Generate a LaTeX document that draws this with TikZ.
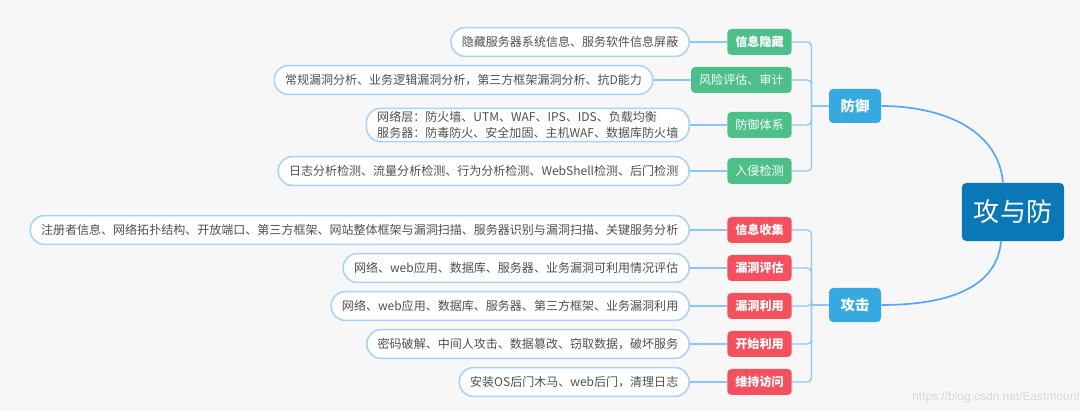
\documentclass[tikz,border=0pt]{standalone}
\usepackage{fontspec}
\setmainfont{Noto Sans CJK SC}
\newfontfamily\wmfont{Liberation Sans}
\usetikzlibrary{positioning}

\definecolor{bgcolor}{HTML}{F7F7F7}
\definecolor{rootblue}{HTML}{0A78B4}
\definecolor{topicblue}{HTML}{35A9E0}
\definecolor{defgreen}{HTML}{4DC08A}
\definecolor{atkred}{HTML}{F5505E}
\definecolor{itemborder}{HTML}{A9D1FA}
\definecolor{itemtext}{HTML}{505050}
\definecolor{linkblue}{HTML}{8CC6F8}
\definecolor{curveblue}{HTML}{55A8F5}

\begin{document}
\begin{tikzpicture}[
    x=0.025cm, y=-0.025cm,
    root/.style={rectangle, rounded corners=3pt, fill=rootblue, text=white, minimum width=2.55cm, minimum height=1.45cm, font=\fontsize{18.5}{22}\selectfont},
    topic/.style={rectangle, rounded corners=3pt, fill=topicblue, text=white, minimum width=1.3cm, minimum height=0.85cm, font=\bfseries\fontsize{10.2}{12}\selectfont},
    label/.style={rectangle, rounded corners=3pt, text=white, minimum height=0.65cm, inner xsep=0.2cm, inner ysep=0pt, font=\fontsize{8.6}{10}\selectfont},
    deflabel/.style={label, fill=defgreen},
    atklabel/.style={label, fill=atkred, font=\bfseries\fontsize{8.6}{10}\selectfont},
    item/.style={rectangle, rounded corners=0.35cm, draw=itemborder, line width=1.1pt, fill=white, text=itemtext, align=left, minimum height=0.72cm, inner xsep=0.27cm, inner ysep=2pt, font=\fontsize{8.55}{11.5}\selectfont},
    branch/.style={draw=linkblue, line width=0.9pt},
    curve/.style={draw=curveblue, line width=1.2pt}
]

\useasboundingbox[fill=bgcolor] (0,0) rectangle (1080,411);

% Nodes
\node[root] (root) at (1013,212) {攻与防};
\node[topic] (fy) at (855,106) {防御};
\node[topic] (gj) at (855,305) {攻击};

% Defence labels
\node[deflabel, anchor=east, font=\bfseries\fontsize{8.6}{10}\selectfont] (d1) at (792,42) {信息隐藏};
\node[deflabel, anchor=east] (d2) at (792,80) {风险评估、审计};
\node[deflabel, anchor=east] (d3) at (792,125) {防御体系};
\node[deflabel, anchor=east] (d4) at (792,171) {入侵检测};

% Attack labels
\node[atklabel, anchor=east] (a1) at (792,230) {信息收集};
\node[atklabel, anchor=east] (a2) at (792,268) {漏洞评估};
\node[atklabel, anchor=east] (a3) at (792,306) {漏洞利用};
\node[atklabel, anchor=east] (a4) at (792,344) {开始利用};
\node[atklabel, anchor=east] (a5) at (792,382) {维持访问};

% Items
\node[item, left=0.93cm of d1] (t1) {隐藏服务器系统信息、服务软件信息屏蔽};
\node[item, left=0.93cm of d2] (t2) {常规漏洞分析、业务逻辑漏洞分析，第三方框架漏洞分析、抗D能力};
\node[item, left=0.93cm of d3] (t3) {网络层：防火墙、UTM、WAF、IPS、IDS、负载均衡\\服务器：防毒防火、安全加固、主机WAF、数据库防火墙};
\node[item, left=0.93cm of d4] (t4) {日志分析检测、流量分析检测、行为分析检测、WebShell检测、后门检测};
\node[item, left=0.93cm of a1] (s1) {注册者信息、网络拓扑结构、开放端口、第三方框架、网站整体框架与漏洞扫描、服务器识别与漏洞扫描、关键服务分析};
\node[item, left=0.93cm of a2] (s2) {网络、web应用、数据库、服务器、业务漏洞可利用情况评估};
\node[item, left=0.93cm of a3] (s3) {网络、web应用、数据库、服务器、第三方框架、业务漏洞利用};
\node[item, left=0.93cm of a4] (s4) {密码破解、中间人攻击、数据篡改、窃取数据，破坏服务};
\node[item, left=0.93cm of a5] (s5) {安装OS后门木马、web后门，清理日志};

% Watermark
\node[text=black!15, font=\wmfont\fontsize{8.5}{9}\selectfont] (wm) at (996,397) {https://blog.csdn.net/Eastmount};

% Curves to root
\draw[curve] (fy.east) to[out=0, in=95] ([xshift=-0.25cm]root.north);
\draw[curve] ([xshift=-0.3cm]root.south) to[out=-95, in=0] (gj.east);

% Brackets
\coordinate (fj) at ([xshift=-0.43cm]fy.west);
\coordinate (gjj) at ([xshift=-0.43cm]gj.west);
\draw[branch] (fy.west) -- (fj);
\draw[branch] (gj.west) -- (gjj);
\foreach \n in {d1,d2,d3,d4}
    \draw[branch, rounded corners=3pt] (fj) |- (\n.east);
\foreach \n in {a1,a2,a3,a4,a5}
    \draw[branch, rounded corners=3pt] (gjj) |- (\n.east);

% Item links
\draw[branch] (t1) -- (d1);
\draw[branch] (t2) -- (d2);
\draw[branch] (t3) -- (d3);
\draw[branch] (t4) -- (d4);
\draw[branch] (s1) -- (a1);
\draw[branch] (s2) -- (a2);
\draw[branch] (s3) -- (a3);
\draw[branch] (s4) -- (a4);
\draw[branch] (s5) -- (a5);

\end{tikzpicture}
\end{document}
